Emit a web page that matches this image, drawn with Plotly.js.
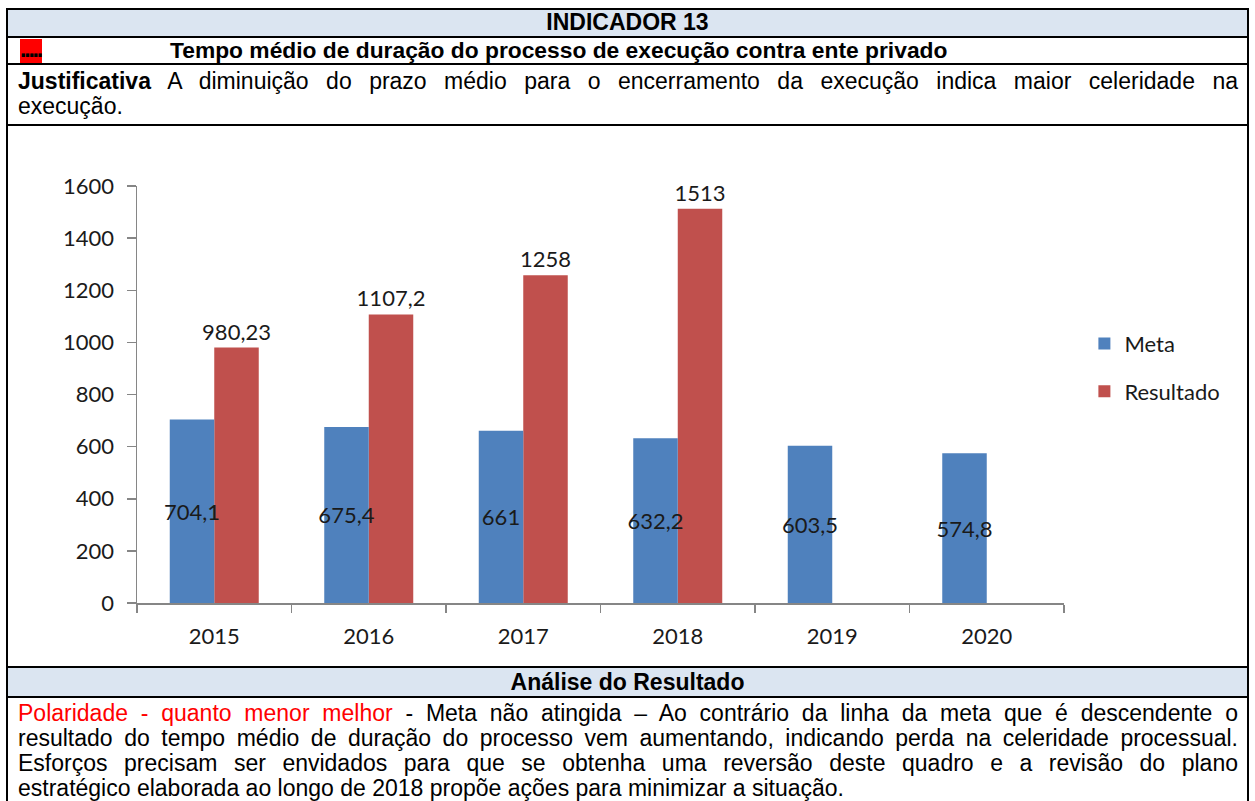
<!DOCTYPE html>
<html>
<head>
<meta charset="utf-8">
<script src="https://cdn.plot.ly/plotly-3.0.1.min.js"></script>
<style>
body { margin: 0; background: #fff; }
#page { position: relative; width: 1255px; height: 801px; overflow: hidden;
        font-family: "Liberation Sans", Arial, sans-serif; color: #000; }
#plot { position: absolute; left: 0; top: 0; width: 1255px; height: 801px; }
.ln { position: absolute; background: #000; }
.band { position: absolute; left: 8px; width: 1239px; background: #dbe5f1; }
.t { position: absolute; font-size: 23px; line-height: 25px; white-space: nowrap; }
.j { left: 18px; width: 1220px; text-align: justify; text-align-last: justify; }
.b { font-weight: bold; }
</style>
</head>
<body>
<div id="page">
  <div id="plot"></div>

  <!-- header bands -->
  <div class="band" style="top:10px;height:27px"></div>
  <div class="band" style="top:668px;height:28px"></div>
  <div style="position:absolute;left:20px;top:39px;width:22px;height:24px;background:#ff0000"></div>

  <!-- table lines -->
  <div class="ln" style="left:6px;top:8px;width:1243px;height:2px"></div>
  <div class="ln" style="left:6px;top:8px;width:2px;height:793px"></div>
  <div class="ln" style="left:1247px;top:8px;width:2px;height:793px"></div>
  <div class="ln" style="left:6px;top:36px;width:1243px;height:2px"></div>
  <div class="ln" style="left:6px;top:63px;width:1243px;height:2px"></div>
  <div class="ln" style="left:6px;top:124px;width:1243px;height:2px"></div>
  <div class="ln" style="left:6px;top:666px;width:1243px;height:2px"></div>
  <div class="ln" style="left:6px;top:696px;width:1243px;height:2px"></div>

  <!-- texts -->
  <div class="t b" style="left:0;width:1255px;top:10px;text-align:center">INDICADOR 13</div>
  <div class="t b" style="left:20px;top:37px;font-size:23px;letter-spacing:-2.2px">.....</div>
  <div class="t b" style="left:170px;top:38px;font-size:22.8px">Tempo médio de duração do processo de execução contra ente privado</div>
  <div class="t j" style="top:69px"><b>Justificativa</b> A diminuição do prazo médio para o encerramento da execução indica maior celeridade na</div>
  <div class="t" style="left:18px;top:94px">execução.</div>
  <div class="t b" style="left:0;width:1255px;top:670px;text-align:center">Análise do Resultado</div>
  <div class="t j" style="top:701px"><span style="color:#ff0000">Polaridade - quanto menor melhor</span> - Meta não atingida – Ao contrário da linha da meta que é descendente o</div>
  <div class="t j" style="top:726px">resultado do tempo médio de duração do processo vem aumentando, indicando perda na celeridade processual.</div>
  <div class="t j" style="top:751px">Esforços precisam ser envidados para que se obtenha uma reversão deste quadro e a revisão do plano</div>
  <div class="t" style="left:18px;top:776px">estratégico elaborada ao longo de 2018 propõe ações para minimizar a situação.</div>
</div>

<script>
// chart values
const years = ['2015', '2016', '2017', '2018', '2019', '2020'];
const meta = [704.1, 675.4, 661, 632.2, 603.5, 574.8];
const resultado = [980.23, 1107.2, 1258, 1513, null, null];

// decimal comma labels
function label(v) {
  return v == null ? '' : String(v).replace('.', ',');
}

const chartFont = { family: 'Lato, "Open Sans", sans-serif', size: 22, color: '#1a1a1a' };
const barW = 0.288;

// Resultado is added first so the Meta labels are drawn over the red bars
let traceRes = {
  type: 'bar',
  name: 'Resultado',
  x: years,
  y: resultado,
  width: barW,
  offset: 0,
  text: resultado.map(label),
  textposition: 'outside',
  textangle: 0,
  constraintext: 'none',
  cliponaxis: false,
  outsidetextfont: chartFont,
  marker: { color: '#c0504d' },
  legendgroup: 'b',
  legendrank: 2,
  hoverinfo: 'none'
};

let traceMeta = {
  type: 'bar',
  name: 'Meta',
  x: years,
  y: meta,
  width: barW,
  offset: -barW,
  text: meta.map(label),
  textposition: 'inside',
  insidetextanchor: 'middle',
  textangle: 0,
  constraintext: 'none',
  cliponaxis: false,
  insidetextfont: chartFont,
  marker: { color: '#4f81bd' },
  legendgroup: 'a',
  legendrank: 1,
  hoverinfo: 'none'
};

let layout = {
  width: 1255,
  height: 801,
  margin: { l: 137, r: 191, t: 186, b: 198 },
  paper_bgcolor: 'rgba(0,0,0,0)',
  plot_bgcolor: 'rgba(0,0,0,0)',
  barmode: 'overlay',
  font: chartFont,
  showlegend: true,
  legend: {
    x: 1.022, y: 0.672, xanchor: 'left', yanchor: 'top',
    traceorder: 'grouped', tracegroupgap: 16,
    font: chartFont, itemwidth: 30
  },
  xaxis: {
    type: 'category',
    showline: true, linecolor: '#868686', linewidth: 1.5,
    ticks: 'outside', tickson: 'boundaries', ticklen: 8, tickcolor: '#868686', tickwidth: 1.5,
    ticklabelstandoff: 13,
    showgrid: false, zeroline: false,
    tickfont: chartFont
  },
  yaxis: {
    range: [0, 1600], tickmode: 'linear', tick0: 0, dtick: 200,
    showline: true, linecolor: '#868686', linewidth: 1.5,
    ticks: 'outside', ticklen: 9, tickcolor: '#868686', tickwidth: 1.5,
    ticklabelstandoff: 8,
    showgrid: false, zeroline: false,
    tickfont: chartFont
  }
};

Plotly.newPlot('plot', [traceRes, traceMeta], layout, { displayModeBar: false, staticPlot: true });
</script>
</body>
</html>
